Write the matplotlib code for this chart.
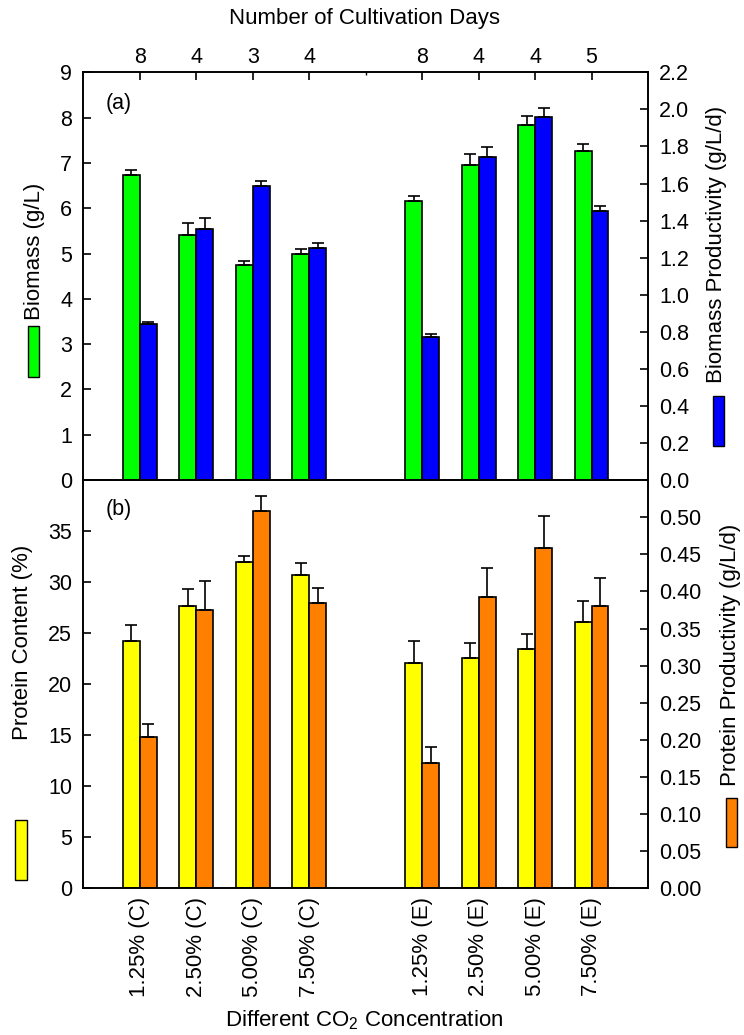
import matplotlib
matplotlib.use("Agg")
import matplotlib.pyplot as plt
from matplotlib.patches import Rectangle
import numpy as np

plt.rcParams['font.family'] = ['Liberation Sans', 'DejaVu Sans']
plt.rcParams['mathtext.fontset'] = 'custom'
plt.rcParams['mathtext.rm'] = 'Liberation Sans'

# data
conc_labels = ['1.25% (C)', '2.50% (C)', '5.00% (C)', '7.50% (C)',
               '1.25% (E)', '2.50% (E)', '5.00% (E)', '7.50% (E)']
days = ['8', '4', '3', '4', '8', '4', '4', '5']
pos = [1, 2, 3, 4, 6, 7, 8, 9]

biomass = [6.73, 5.41, 4.75, 5.00, 6.15, 6.96, 7.84, 7.26]
biomass_err = [0.11, 0.26, 0.09, 0.10, 0.13, 0.24, 0.20, 0.16]
bio_prod = [0.843, 1.352, 1.585, 1.252, 0.770, 1.741, 1.960, 1.452]
bio_prod_err = [0.010, 0.064, 0.030, 0.025, 0.016, 0.056, 0.050, 0.027]

protein = [24.2, 27.7, 32.0, 30.7, 22.1, 22.6, 23.4, 26.1]
protein_err = [1.6, 1.6, 0.6, 1.15, 2.15, 1.45, 1.55, 2.05]
prot_prod = [0.204, 0.375, 0.508, 0.384, 0.169, 0.393, 0.459, 0.380]
prot_prod_err = [0.017, 0.039, 0.020, 0.021, 0.021, 0.038, 0.042, 0.038]

green = '#00ff00'
blue = '#0000ff'
yellow = '#ffff00'
orange = '#ff8000'

fs = 15.5
w = 0.3
x = np.array(pos)

fig = plt.figure(figsize=(7.44, 10.35), dpi=100)
ax1 = fig.add_axes([0.112, 0.5362, 0.759, 0.3939])
ax2 = fig.add_axes([0.112, 0.1417, 0.759, 0.3945])
ax1r = ax1.twinx()
ax2r = ax2.twinx()


def bars(ax, xs, vals, errs, color):
    ax.bar(xs, vals, width=w, color=color, edgecolor='black', linewidth=1.2, zorder=2)
    ax.errorbar(xs, vals, yerr=[np.zeros(len(errs)), errs], fmt='none',
                ecolor='black', elinewidth=1.2, capsize=4, capthick=1.2, zorder=3)


bars(ax1, x - w / 2, biomass, biomass_err, green)
bars(ax1r, x + w / 2, bio_prod, bio_prod_err, blue)
bars(ax2, x - w / 2, protein, protein_err, yellow)
bars(ax2r, x + w / 2, prot_prod, prot_prod_err, orange)

ax1.set_ylim(0, 9)
ax1r.set_ylim(0, 2.2)
ax2.set_ylim(0, 40)
ax2r.set_ylim(0, 0.55)
for a in (ax1, ax2, ax1r, ax2r):
    a.set_xlim(0, 10)
    for s in a.spines.values():
        s.set_linewidth(1.2)

ax1.set_yticks(np.arange(0, 10, 1))
ax1r.set_yticks(np.round(np.arange(0, 2.21, 0.2), 1))
ax1r.set_yticklabels(['%.1f' % v for v in np.arange(0, 2.21, 0.2)])
ax2.set_yticks(np.arange(0, 36, 5))
ax2r.set_yticks(np.arange(0, 0.51, 0.05))
ax2r.set_yticklabels(['%.2f' % v for v in np.arange(0, 0.51, 0.05)])

for a in (ax1, ax2, ax1r, ax2r):
    a.tick_params(axis='y', direction='in', length=6, width=1.2, labelsize=fs, pad=8)

# top axis: cultivation days
ax1.set_xticks(pos)
ax1.set_xticklabels(days)
ax1.set_xticks([5], minor=True)
ax1.xaxis.tick_top()
ax1.tick_params(axis='x', which='major', direction='in', length=6, width=1.2,
                labelsize=fs, pad=3)
ax1.tick_params(axis='x', which='minor', direction='in', length=2, width=1.0)
ax1r.tick_params(axis='x', which='both', top=False, bottom=False,
                 labeltop=False, labelbottom=False)

# bottom axis: concentration
ax2.set_xticks(pos)
ax2.set_xticklabels(conc_labels, rotation=90)
ax2.tick_params(axis='x', length=0, labelsize=16, pad=6)

ax1.text(0.4, 8.2, '(a)', fontsize=fs)
ax2.text(0.4, 36.6, '(b)', fontsize=fs)

fig.text(0.49, 0.9826, 'Number of Cultivation Days', ha='center', va='center', fontsize=16)
fig.text(0.49, 0.0145, 'Different CO$_2$ Concentration', ha='center', va='center', fontsize=16)

# y labels with colour keys
fig.text(0.046, 0.7575, 'Biomass (g/L)', rotation=90, ha='center', va='center', fontsize=16)
fig.patches.append(Rectangle((0.0376, 0.6357), 0.0148, 0.0493, transform=fig.transFigure,
                             facecolor=green, edgecolor='black', linewidth=1.0))
fig.text(0.963, 0.764, 'Biomass Productivity (g/L/d)', rotation=90, ha='center', va='center', fontsize=16)
fig.patches.append(Rectangle((0.958, 0.569), 0.0152, 0.0483, transform=fig.transFigure,
                             facecolor=blue, edgecolor='black', linewidth=1.0))
fig.text(0.030, 0.3797, 'Protein Content (%)', rotation=90, ha='center', va='center', fontsize=16)
fig.patches.append(Rectangle((0.0202, 0.1498), 0.0161, 0.058, transform=fig.transFigure,
                             facecolor=yellow, edgecolor='black', linewidth=1.0))
fig.text(0.982, 0.367, 'Protein Productivity (g/L/d)', rotation=90, ha='center', va='center', fontsize=16)
fig.patches.append(Rectangle((0.9758, 0.1816), 0.0148, 0.0473, transform=fig.transFigure,
                             facecolor=orange, edgecolor='black', linewidth=1.0))

fig.savefig('out.png', dpi=100)
